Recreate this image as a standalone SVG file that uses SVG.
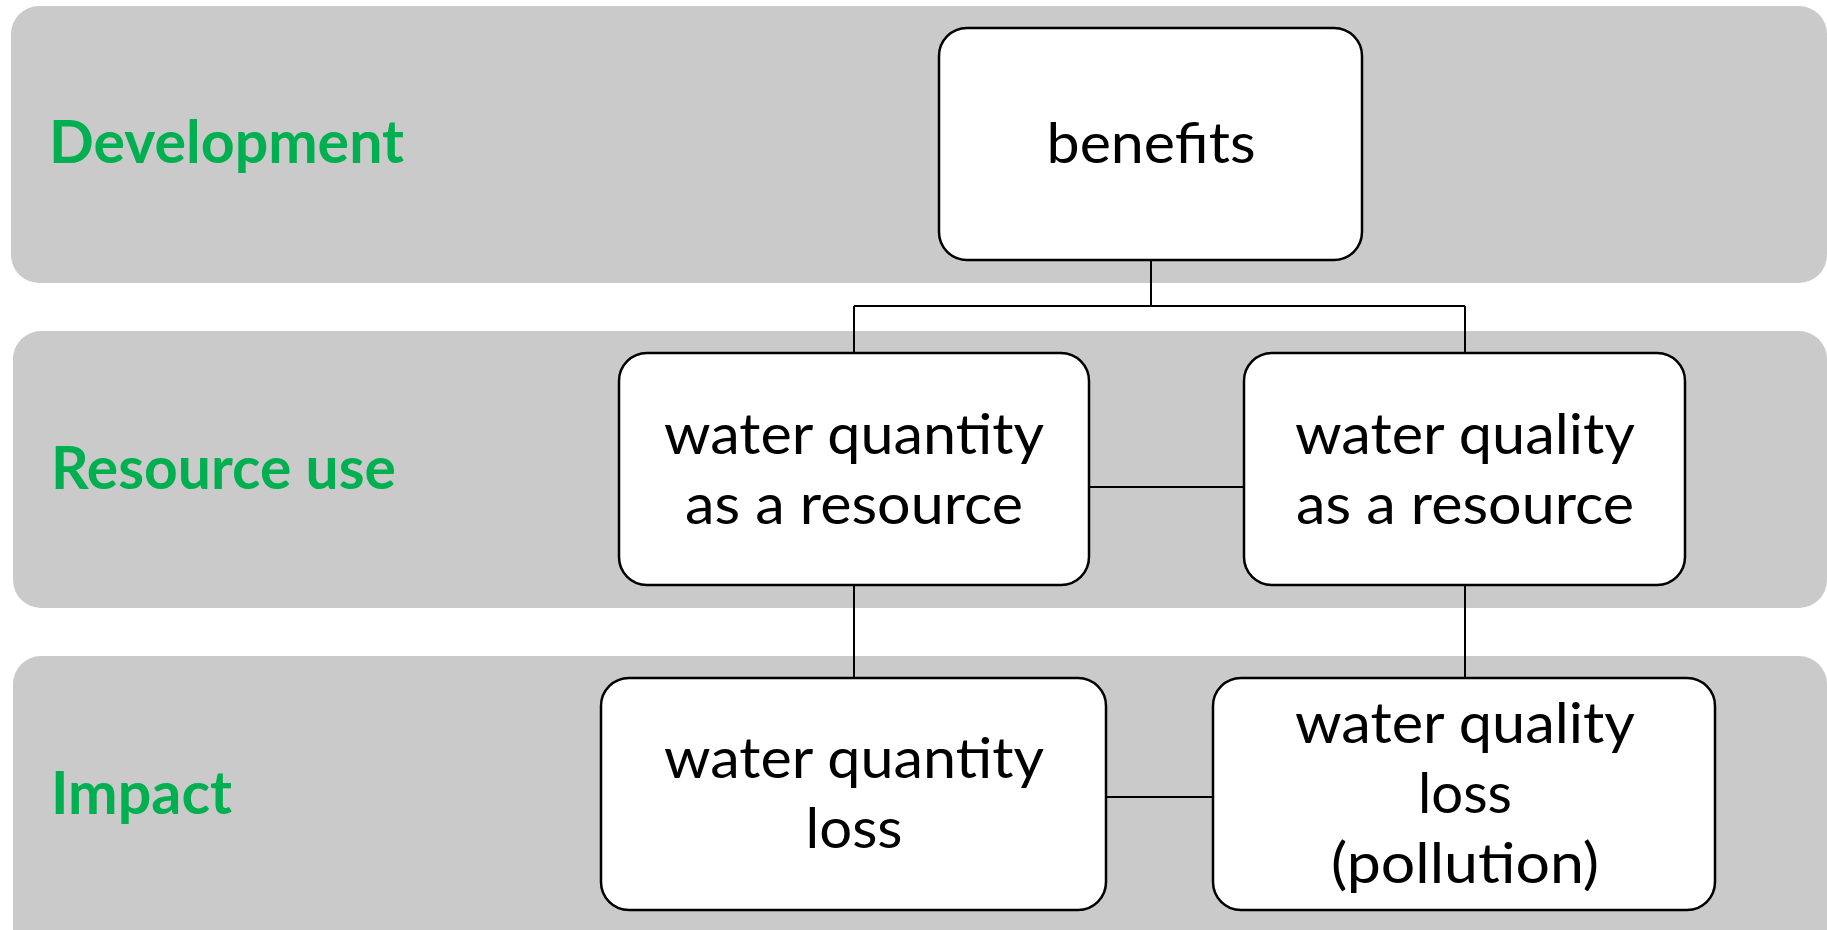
<svg xmlns="http://www.w3.org/2000/svg" width="1827" height="930" viewBox="0 0 1827 930">
<style>
.band{fill:#cacaca}
.lbl{font-family:Lato,"Open Sans","Liberation Sans",sans-serif;font-weight:bold;font-size:60px;fill:#00b050}
.box{fill:#ffffff;stroke:#000;stroke-width:2.5}
.t{font-family:Lato,"Open Sans","Liberation Sans",sans-serif;font-size:57px;fill:#000;text-anchor:middle}
.con{fill:none;stroke:#000;stroke-width:2}
</style>
<g id="bands">
<rect class="band" x="11" y="6" width="1816" height="277" rx="28"/>
<rect class="band" x="13" y="331" width="1814" height="277" rx="28"/>
<rect class="band" x="13" y="656" width="1814" height="300" rx="28"/>
<text class="lbl" x="49" y="163" textLength="355" lengthAdjust="spacingAndGlyphs">Development</text>
<text class="lbl" x="51" y="489" textLength="345" lengthAdjust="spacingAndGlyphs">Resource use</text>
<text class="lbl" x="51" y="814" textLength="181" lengthAdjust="spacingAndGlyphs">Impact</text>
</g>
<g id="connectors">
<path class="con" d="M1151 260 V306 M854 306 H1465 M854 306 V353 M1465 306 V353"/>
<path class="con" d="M1089 487 H1244"/>
<path class="con" d="M854 585 V678 M1465 585 V678"/>
<path class="con" d="M1106 797 H1213"/>
</g>
<g id="benefits">
<rect class="box" x="939" y="28" width="423" height="232" rx="28"/>
<text class="t" x="1151" y="163" textLength="209" lengthAdjust="spacingAndGlyphs">benefits</text>
</g>
<g id="quantity-resource">
<rect class="box" x="619" y="353" width="470" height="232" rx="28"/>
<text class="t" x="854" y="454" textLength="380" lengthAdjust="spacingAndGlyphs">water quantity</text>
<text class="t" x="854" y="524" textLength="338" lengthAdjust="spacingAndGlyphs">as a resource</text>
</g>
<g id="quality-resource">
<rect class="box" x="1244" y="353" width="441" height="232" rx="28"/>
<text class="t" x="1465" y="454" textLength="340" lengthAdjust="spacingAndGlyphs">water quality</text>
<text class="t" x="1465" y="524" textLength="338" lengthAdjust="spacingAndGlyphs">as a resource</text>
</g>
<g id="quantity-loss">
<rect class="box" x="601" y="678" width="505" height="232" rx="28"/>
<text class="t" x="854" y="778" textLength="380" lengthAdjust="spacingAndGlyphs">water quantity</text>
<text class="t" x="854" y="848" textLength="97" lengthAdjust="spacingAndGlyphs">loss</text>
</g>
<g id="quality-loss">
<rect class="box" x="1213" y="678" width="502" height="232" rx="28"/>
<text class="t" x="1465" y="743" textLength="340" lengthAdjust="spacingAndGlyphs">water quality</text>
<text class="t" x="1465" y="813" textLength="94" lengthAdjust="spacingAndGlyphs">loss</text>
<text class="t" x="1465" y="883" textLength="268" lengthAdjust="spacingAndGlyphs">(pollution)</text>
</g>
</svg>
